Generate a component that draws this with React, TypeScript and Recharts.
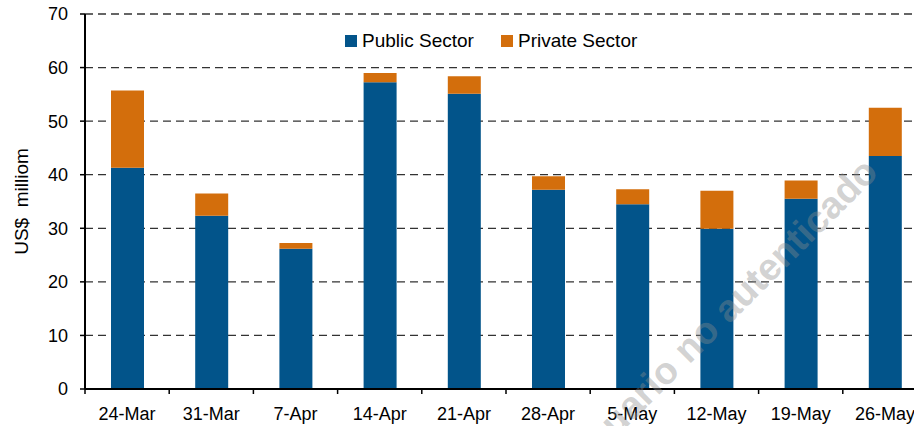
import React from 'react';
import { BarChart, Bar, XAxis, YAxis, CartesianGrid, Label } from 'recharts';

const dates = ['24-Mar', '31-Mar', '7-Apr', '14-Apr', '21-Apr', '28-Apr', '5-May', '12-May', '19-May', '26-May'];
const publicSector = [41.3, 32.35, 26.2, 57.25, 55.1, 37.2, 34.5, 29.9, 35.5, 43.5];
const privateSector = [14.4, 4.15, 1.05, 1.75, 3.3, 2.5, 2.8, 7.1, 3.4, 9.0];
const yTicks = [0, 10, 20, 30, 40, 50, 60, 70];

const BLUE = '#02548a';
const ORANGE = '#d36e0c';
const FONT = '"Liberation Sans", Arial, sans-serif';

const data = dates.map((d, i) => ({ date: d, pub: publicSector[i], priv: privateSector[i] }));

const XTick = (props: any) => {
  const { x, y, payload, index } = props;
  const half = payload && payload.offset ? payload.offset : 42;
  return (
    <g>
      <line x1={x - half} y1={y} x2={x - half} y2={y + 5} stroke="#000" strokeWidth={1.5} />
      {index === dates.length - 1 && (
        <line x1={x + half} y1={y} x2={x + half} y2={y + 5} stroke="#000" strokeWidth={1.5} />
      )}
      <text x={x} y={y + 31} textAnchor="middle" fontSize={18} fill="#000" fontFamily={FONT}>
        {payload.value}
      </text>
    </g>
  );
};

// legend drawn by hand so it doesn't push the plot area down
const LegendBox = () => (
  <div
    style={{
      position: 'absolute',
      top: 30,
      left: 345,
      display: 'flex',
      alignItems: 'center',
      fontSize: 19,
      fontFamily: FONT,
      color: '#000',
      whiteSpace: 'nowrap',
    }}
  >
    <span style={{ width: 12, height: 12, background: BLUE, display: 'inline-block', marginRight: 5 }} />
    <span style={{ marginRight: 27 }}>Public Sector</span>
    <span style={{ width: 12, height: 12, background: ORANGE, display: 'inline-block', marginRight: 5 }} />
    <span>Private Sector</span>
  </div>
);

export default function App() {
  return (
    <div style={{ position: 'absolute', left: 0, top: 0, width: 914, height: 426, overflow: 'hidden', background: '#fff' }}>
      <BarChart width={940} height={426} data={data} margin={{ top: 14, right: 13, bottom: 0, left: 0 }}>
        <CartesianGrid vertical={false} stroke="#333" strokeDasharray="8 5" strokeWidth={1.3} />
        <XAxis
          dataKey="date"
          height={37}
          axisLine={{ stroke: '#000', strokeWidth: 2 }}
          tickLine={false}
          tickSize={0}
          tickMargin={0}
          interval={0}
          tick={<XTick />}
        />
        <YAxis
          width={85}
          domain={[0, 70]}
          ticks={yTicks}
          interval={0}
          axisLine={{ stroke: '#000', strokeWidth: 2 }}
          tickLine={{ stroke: '#000', strokeWidth: 1.5 }}
          tickSize={5}
          tickMargin={12}
          tick={{ fontSize: 18, fill: '#000', fontFamily: FONT }}
        >
          <Label
            value={'US$\u00a0\u00a0milliom'}
            angle={-90}
            position="insideLeft"
            offset={21}
            style={{ textAnchor: 'middle', fontSize: 19, fill: '#000', fontFamily: FONT }}
          />
        </YAxis>
        <Bar dataKey="pub" name="Public Sector" stackId="a" fill={BLUE} barSize={33} isAnimationActive={false} />
        <Bar dataKey="priv" name="Private Sector" stackId="a" fill={ORANGE} barSize={33} isAnimationActive={false} />
      </BarChart>
      <LegendBox />
      <svg width={914} height={426} style={{ position: 'absolute', left: 0, top: 0, pointerEvents: 'none' }}>
        <text
          x={880}
          y={174}
          textAnchor="end"
          transform="rotate(-45 880 174)"
          fontSize={38}
          fontWeight="bold"
          fontFamily={FONT}
          fill="#8c8c8c"
          fillOpacity={0.4}
        >
          Usuario no autenticado
        </text>
      </svg>
    </div>
  );
}
